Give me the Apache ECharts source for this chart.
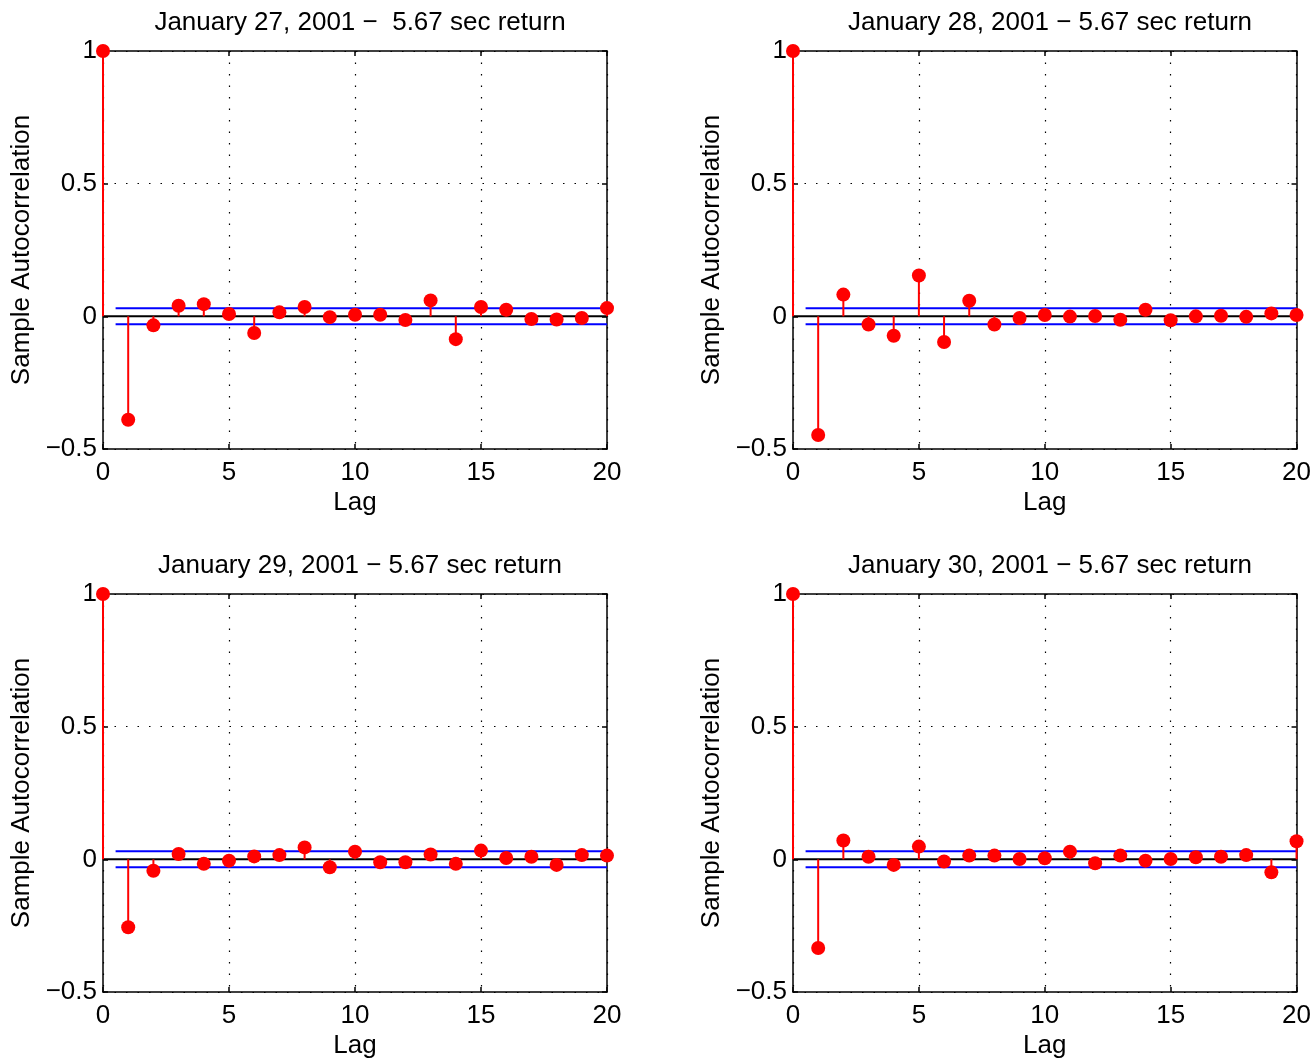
<!DOCTYPE html>
<html>
<head>
<meta charset="utf-8">
<script src="https://cdn.jsdelivr.net/npm/echarts@6/dist/echarts.min.js"></script>
<style>
  html, body { margin: 0; padding: 0; background: #fff; }
  #chart { width: 1314px; height: 1061px; }
</style>
</head>
<body>
<div id="chart"></div>
<script>
// lags and sample autocorrelations
var lags = [0, 1, 2, 3, 4, 5, 6, 7, 8, 9, 10, 11, 12, 13, 14, 15, 16, 17, 18, 19, 20];
var acfJan27 = [1, -0.39, -0.034, 0.040, 0.046, 0.009, -0.063, 0.015, 0.035, -0.003, 0.006,
  0.006, -0.014, 0.060, -0.086, 0.035, 0.025, -0.010, -0.012, -0.006, 0.031];
var acfJan28 = [1, -0.447, 0.082, -0.031, -0.073, 0.154, -0.097, 0.059, -0.031, -0.006, 0.005,
  -0.001, 0.001, -0.013, 0.025, -0.015, 0, 0.002, -0.002, 0.011, 0.005];
var acfJan29 = [1, -0.256, -0.043, 0.020, -0.017, -0.005, 0.011, 0.016, 0.045, -0.030, 0.029,
  -0.011, -0.011, 0.018, -0.017, 0.033, 0.005, 0.010, -0.021, 0.016, 0.014];
var acfJan30 = [1, -0.334, 0.071, 0.010, -0.021, 0.048, -0.008, 0.014, 0.014, 0.001, 0.004,
  0.029, -0.015, 0.014, -0.005, 0.001, 0.008, 0.010, 0.016, -0.049, 0.068];
var confBound = 0.03;
var boundStart = 0.5;
var titles = [
  "January 27, 2001 \u2212  5.67 sec return",
  "January 28, 2001 \u2212 5.67 sec return",
  "January 29, 2001 \u2212 5.67 sec return",
  "January 30, 2001 \u2212 5.67 sec return"
];
var panels = [acfJan27, acfJan28, acfJan29, acfJan30];
var xTicks = { min: 0, max: 20, interval: 5 };
var yTicks = { min: -0.5, max: 1, interval: 0.5 };

var font = "'Liberation Sans', Arial, Helvetica, sans-serif";
var fs = 26;
var boxes = [
  { left: 103, top: 51 },
  { left: 793, top: 51 },
  { left: 103, top: 594 },
  { left: 793, top: 594 }
];
var W = 504, H = 398;

var chart = echarts.init(document.getElementById("chart"));

var grid = [], xAxis = [], yAxis = [], series = [], title = [];

function fmtY(v) {
  return String(v).replace("-", "\u2212");
}

boxes.forEach(function (b, i) {
  grid.push({ left: b.left, top: b.top, width: W, height: H, containLabel: false });
  title.push({
    text: titles[i],
    left: b.left + W / 2,
    top: b.top - 46,
    textAlign: "center",
    textStyle: { fontFamily: font, fontSize: fs, fontWeight: "normal", color: "#000" }
  });
  var lineStyle = { color: "#000", width: 1.5 };
  var dotted = { show: true, lineStyle: { color: "#000", width: 1.2, type: [1.5, 10] } };
  xAxis.push({
    type: "value", gridIndex: i, position: "bottom",
    min: xTicks.min, max: xTicks.max, interval: xTicks.interval,
    name: "Lag", nameLocation: "middle", nameGap: 41,
    nameTextStyle: { fontFamily: font, fontSize: fs, color: "#000" },
    axisLine: { show: true, onZero: false, lineStyle: lineStyle },
    axisTick: { show: true, inside: true, length: 5, lineStyle: lineStyle },
    axisLabel: { fontFamily: font, fontSize: fs, color: "#000", margin: 11 },
    splitLine: dotted
  });
  xAxis.push({
    type: "value", gridIndex: i, position: "top",
    min: xTicks.min, max: xTicks.max, interval: xTicks.interval,
    axisLine: { show: true, onZero: false, lineStyle: lineStyle },
    axisTick: { show: true, inside: true, length: 5, lineStyle: lineStyle },
    axisLabel: { show: false },
    splitLine: { show: false }
  });
  yAxis.push({
    type: "value", gridIndex: i, position: "left",
    min: yTicks.min, max: yTicks.max, interval: yTicks.interval,
    name: "Sample Autocorrelation", nameLocation: "middle", nameGap: 68,
    nameTextStyle: { fontFamily: font, fontSize: fs, color: "#000" },
    axisLine: { show: true, onZero: false, lineStyle: lineStyle },
    axisTick: { show: true, inside: true, length: 5, lineStyle: lineStyle },
    axisLabel: { fontFamily: font, fontSize: fs, color: "#000", margin: 6, formatter: fmtY },
    splitLine: dotted
  });
  yAxis.push({
    type: "value", gridIndex: i, position: "right",
    min: yTicks.min, max: yTicks.max, interval: yTicks.interval,
    axisLine: { show: true, onZero: false, lineStyle: lineStyle },
    axisTick: { show: true, inside: true, length: 5, lineStyle: lineStyle },
    axisLabel: { show: false },
    splitLine: { show: false }
  });

  var xi = 2 * i, yi = 2 * i;
  var pts = lags.map(function (l, k) { return [l, panels[i][k]]; });

  // zero line
  series.push({
    type: "line", xAxisIndex: xi, yAxisIndex: yi, silent: true,
    data: [[xTicks.min, 0], [xTicks.max, 0]],
    symbol: "none", lineStyle: { color: "#000", width: 2 }, z: 2
  });
  // confidence bounds
  [confBound, -confBound].forEach(function (c) {
    series.push({
      type: "line", xAxisIndex: xi, yAxisIndex: yi, silent: true,
      data: [[boundStart, c], [xTicks.max, c]],
      symbol: "none", lineStyle: { color: "#0000ff", width: 2 }, z: 3
    });
  });
  // stems
  series.push({
    type: "custom", xAxisIndex: xi, yAxisIndex: yi, silent: true, z: 4,
    data: pts,
    renderItem: function (params, api) {
      var p0 = api.coord([api.value(0), 0]);
      var p1 = api.coord([api.value(0), api.value(1)]);
      return {
        type: "line",
        shape: { x1: p0[0], y1: p0[1], x2: p1[0], y2: p1[1] },
        style: { stroke: "#ff0000", lineWidth: 2 }
      };
    }
  });
  // markers
  series.push({
    type: "scatter", xAxisIndex: xi, yAxisIndex: yi, silent: true, z: 5,
    clip: false, data: pts, symbol: "circle", symbolSize: 14,
    itemStyle: { color: "#ff0000", opacity: 1 }
  });
});

chart.setOption({
  animation: false,
  backgroundColor: "#fff",
  title: title,
  grid: grid,
  xAxis: xAxis,
  yAxis: yAxis,
  series: series
});
</script>
</body>
</html>
